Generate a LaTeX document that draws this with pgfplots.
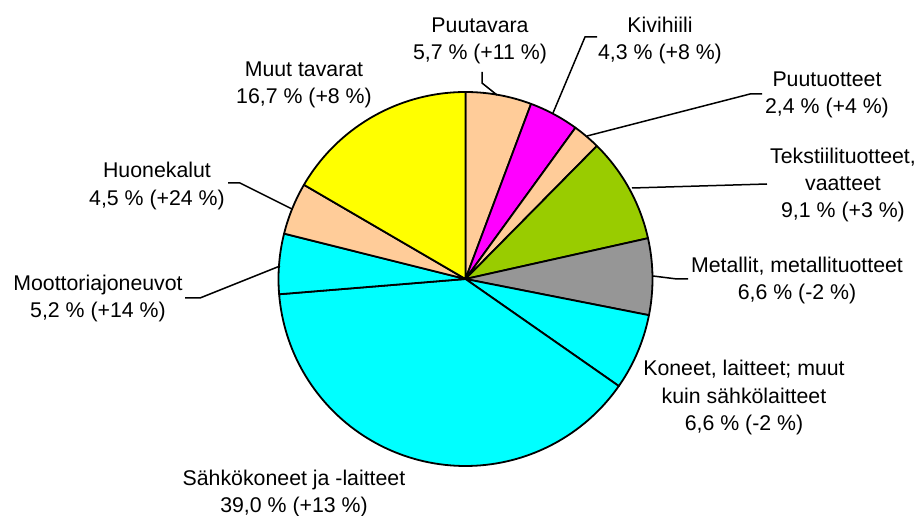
\documentclass[border=0pt]{standalone}
\usepackage{pgfplots}
\pgfplotsset{compat=1.18}
\usepackage{fontspec}
\setmainfont{Liberation Sans}
\definecolor{peach}{HTML}{FFCC99}
\definecolor{mag}{HTML}{FF00FF}
\definecolor{grn}{HTML}{99CC00}
\definecolor{gry}{HTML}{969696}
\definecolor{cyn}{HTML}{00FFFF}
\definecolor{yel}{HTML}{FFFF00}
% slice: colour, cumulative start %, cumulative end %
\newcommand{\slice}[3]{\addplot[fill=#1, draw=black, line width=1.8bp, line join=round,
  domain={90-3.6*#3}:{90-3.6*#2}, samples=90]
  ({465.5+187*cos(x)},{237+187*sin(x)}) -- (465.5,237) -- cycle;}
\newcommand{\lbl}[3]{\node[anchor=base, inner sep=0pt, font=\fontsize{21.3bp}{27bp}\selectfont] at (#1,#2) {#3};}
\begin{document}
\begin{tikzpicture}
\useasboundingbox (0,0) rectangle (920bp,516bp);
\begin{axis}[x=1bp, y=1bp, xmin=0, xmax=920, ymin=0, ymax=516,
  hide axis, clip=false, scale only axis]
% shares (%): 5.7, 4.3, 2.4, 9.1, 6.6, 6.6, 39.0, 5.2, 4.5, 16.7
\slice{peach}{0}{5.7}
\slice{mag}{5.7}{10.0}
\slice{peach}{10.0}{12.4}
\slice{grn}{12.4}{21.5}
\slice{gry}{21.5}{28.1}
\slice{cyn}{28.1}{34.7}
\slice{cyn}{34.7}{73.7}
\slice{cyn}{73.7}{78.9}
\slice{peach}{78.9}{83.4}
\slice{yel}{83.4}{100}
% leader lines
\addplot[black, line width=1.5bp] coordinates {(482,444) (482,433) (497,421)};
\addplot[black, line width=1.5bp] coordinates {(597,479) (585,479) (553,403)};
\addplot[black, line width=1.5bp] coordinates {(762,422) (750,422) (587,380)};
\addplot[black, line width=1.5bp] coordinates {(767,332) (632,328)};
\addplot[black, line width=1.5bp] coordinates {(688,237) (677,237) (653,240)};
\addplot[black, line width=1.5bp] coordinates {(185,218) (200,218) (280,250)};
\addplot[black, line width=1.5bp] coordinates {(228,333) (240,333) (292,307)};
% labels
\lbl{480}{483}{Puutavara}
\lbl{480}{456}{5,7 \% (+11 \%)}
\lbl{660}{483}{Kivihiili}
\lbl{660}{456}{4,3 \% (+8 \%)}
\lbl{827}{429}{Puutuotteet}
\lbl{827}{402}{2,4 \% (+4 \%)}
\lbl{843}{353}{Tekstiilituotteet,}
\lbl{843}{326}{vaatteet}
\lbl{843}{299}{9,1 \% (+3 \%)}
\lbl{797}{244}{Metallit, metallituotteet}
\lbl{797}{217}{6,6 \% (-2 \%)}
\lbl{744}{141}{Koneet, laitteet; muut}
\lbl{744}{113}{kuin sähkölaitteet}
\lbl{744}{86}{6,6 \% (-2 \%)}
\lbl{294}{31}{Sähkökoneet ja -laitteet}
\lbl{294}{4}{39,0 \% (+13 \%)}
\lbl{98}{226}{Moottoriajoneuvot}
\lbl{98}{199}{5,2 \% (+14 \%)}
\lbl{157}{339}{Huonekalut}
\lbl{157}{311}{4,5 \% (+24 \%)}
\lbl{304}{439}{Muut tavarat}
\lbl{304}{412}{16,7 \% (+8 \%)}
\end{axis}
\end{tikzpicture}
\end{document}
